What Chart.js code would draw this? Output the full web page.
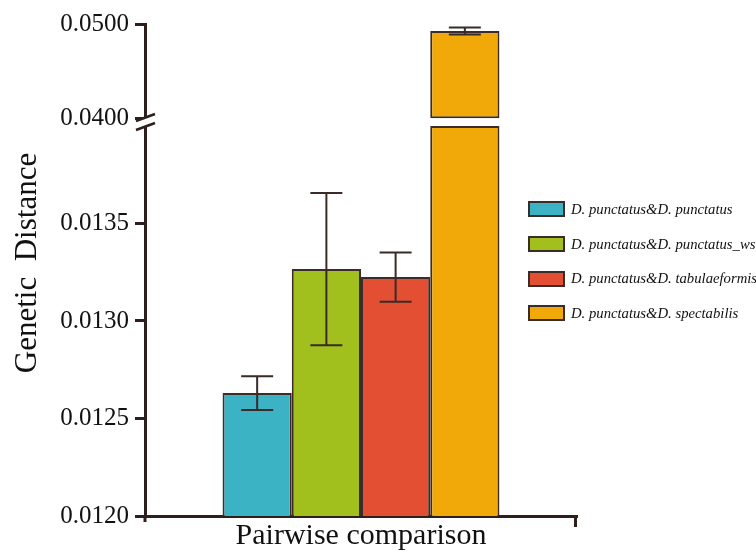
<!DOCTYPE html>
<html>
<head>
<meta charset="utf-8">
<script src="https://cdn.jsdelivr.net/npm/chart.js@4.4.1/dist/chart.umd.min.js"></script>
<style>
  html, body { margin: 0; padding: 0; background: #fff; }
  #wrap { position: relative; width: 756px; height: 554px; }
  #legend { position: absolute; left: 528px; top: 192px; font-family: 'Liberation Serif', 'Times New Roman', serif; font-style: italic; font-size: 14.7px; color: #111; }
  .item { display: flex; align-items: center; height: 34.7px; white-space: nowrap; }
  .swatch { width: 33px; height: 12px; border: 2px solid #3b2c2a; margin-right: 6px; flex: none; }
</style>
</head>
<body>
<div id="wrap">
  <canvas id="chart" width="756" height="554"></canvas>
  <div id="legend"></div>
</div>
<script>
const categories = ['Pairwise comparison'];
const seriesNames = [
    'D. punctatus&D. punctatus',
    'D. punctatus&D. punctatus_ws',
    'D. punctatus&D. tabulaeformis',
    'D. punctatus&D. spectabilis'
];
const seriesMeans = [0.01263, 0.013266, 0.013225, 0.04925];
const seriesErrors = [0.000086, 0.00039, 0.000126, 0.00037];
const seriesColors = ['#3cb3c4', '#a1c01d', '#e24f32', '#f1a90a'];
const lowTicks = [0.012, 0.01225, 0.0125, 0.01275, 0.013, 0.01325, 0.0135, 0.01375];
const highTicks = [0.04, 0.045, 0.05];
const majorTicks = [0.012, 0.0125, 0.013, 0.0135, 0.04, 0.05];

// broken axis: two stacked y scales
const LOW_MIN = 0.012, LOW_MAX = 0.01402, LOW_CUT = 0.0140;
const HIGH_MIN = 0.0396, HIGH_MAX = 0.05;

const axisColor = '#2d1f1c';
const edgeColor = '#3b2c2a';
const serif = "'Liberation Serif', 'Times New Roman', serif";

const isMajor = v => majorTicks.some(m => Math.abs(m - v) < 1e-9);

// lower pieces of every bar, the tall one is cut at the break
const datasets = seriesNames.map((name, i) => ({
    label: name,
    data: [Math.min(seriesMeans[i], LOW_CUT)],
    yAxisID: 'yLow',
    stack: 's' + i,
    backgroundColor: seriesColors[i],
    borderColor: edgeColor,
    borderWidth: 2
}));
// upper pieces above the break
seriesMeans.forEach((m, i) => {
    if (m > LOW_MAX) {
        datasets.push({
            label: seriesNames[i],
            data: [[highTicks[0], m]],
            yAxisID: 'yHigh',
            stack: 's' + i,
            backgroundColor: seriesColors[i],
            borderColor: edgeColor,
            borderWidth: 2,
            borderSkipped: false
        });
    }
});

function yScale(min, max, ticks, weight) {
    return {
        type: 'linear',
        position: 'left',
        stack: 'y',
        stackWeight: weight,
        min: min,
        max: max,
        afterBuildTicks: s => { s.ticks = ticks.map(v => ({ value: v })); },
        afterFit: s => { s.width = 145; },
        ticks: {
            padding: 6,
            color: '#111',
            font: { family: serif, size: 25 },
            callback: v => isMajor(v) ? v.toFixed(4) : ''
        },
        grid: {
            drawOnChartArea: false,
            tickLength: 10,
            tickWidth: 3,
            tickColor: c => (c.tick && isMajor(c.tick.value)) ? axisColor : 'rgba(0,0,0,0)'
        },
        border: { color: axisColor, width: 3 }
    };
}

const extrasPlugin = {
    id: 'extras',
    afterDatasetsDraw(chart) {
        const ctx = chart.ctx;
        ctx.save();
        ctx.strokeStyle = '#3a2a28';
        ctx.lineWidth = 2;
        seriesMeans.forEach((m, i) => {
            const onHigh = m > LOW_MAX;
            const idx = onHigh ? datasets.findIndex(d => d.yAxisID === 'yHigh' && d.stack === 's' + i) : i;
            const bar = chart.getDatasetMeta(idx).data[0];
            const sc = chart.scales[onHigh ? 'yHigh' : 'yLow'];
            const top = sc.getPixelForValue(m + seriesErrors[i]);
            const bot = sc.getPixelForValue(m - seriesErrors[i]);
            ctx.beginPath();
            ctx.moveTo(bar.x, top); ctx.lineTo(bar.x, bot);
            ctx.moveTo(bar.x - 16, top); ctx.lineTo(bar.x + 16, top);
            ctx.moveTo(bar.x - 16, bot); ctx.lineTo(bar.x + 16, bot);
            ctx.stroke();
        });
        ctx.restore();
    },
    afterDraw(chart) {
        const ctx = chart.ctx;
        const area = chart.chartArea;
        ctx.save();
        ctx.strokeStyle = axisColor;
        ctx.lineWidth = 2.5;
        // minor ticks
        ['yLow', 'yHigh'].forEach(id => {
            const sc = chart.scales[id];
            sc.ticks.forEach(t => {
                if (isMajor(t.value)) return;
                const y = sc.getPixelForValue(t.value);
                ctx.beginPath();
                ctx.moveTo(area.left - 5, y); ctx.lineTo(area.left, y);
                ctx.stroke();
            });
        });
        // axis ends
        ctx.lineWidth = 3;
        ctx.beginPath();
        ctx.moveTo(area.right - 1.5, area.bottom); ctx.lineTo(area.right - 1.5, area.bottom + 11);
        ctx.moveTo(area.left, area.bottom); ctx.lineTo(area.left, area.bottom + 6);
        ctx.stroke();
        // break marks
        const yb = chart.scales.yHigh.bottom;
        ctx.fillStyle = '#fff';
        ctx.fillRect(area.left - 3, yb - 4, 6, 9);
        ctx.lineWidth = 2.5;
        ctx.beginPath();
        ctx.moveTo(area.left - 9, yb - 1); ctx.lineTo(area.left + 10, yb - 8);
        ctx.moveTo(area.left - 9, yb + 8); ctx.lineTo(area.left + 10, yb + 1);
        ctx.stroke();
        // y title
        ctx.fillStyle = '#111';
        ctx.font = '31px ' + serif;
        ctx.textAlign = 'center';
        ctx.textBaseline = 'middle';
        ctx.translate(28, 263);
        ctx.rotate(-Math.PI / 2);
        ctx.fillText('Genetic  Distance', 0, 0);
        ctx.restore();
    }
};

new Chart(document.getElementById('chart'), {
    type: 'bar',
    data: { labels: categories, datasets: datasets },
    options: {
        responsive: false,
        animation: false,
        layout: { padding: { top: 24, right: 179, left: 0, bottom: 0 } },
        datasets: { bar: { categoryPercentage: 0.641, barPercentage: 1 } },
        plugins: { legend: { display: false }, tooltip: { enabled: false } },
        scales: {
            x: {
                afterFit: s => { s.height = 38; },
                ticks: { display: false },
                grid: { display: false },
                border: { color: axisColor, width: 3 },
                title: {
                    display: true,
                    text: 'Pairwise comparison',
                    color: '#111',
                    padding: 0,
                    font: { family: serif, size: 30 }
                }
            },
            // stacked scales: the later one sits on top
            yLow: yScale(LOW_MIN, LOW_MAX, lowTicks, 394),
            yHigh: yScale(HIGH_MIN, HIGH_MAX, highTicks, 98)
        }
    },
    plugins: [extrasPlugin]
});

document.getElementById('legend').innerHTML = seriesNames.map((name, i) => `
    <div class="item">
        <span class="swatch" style="background:${seriesColors[i]}"></span>
        <span>${name}</span>
    </div>`).join('');
</script>
</body>
</html>
